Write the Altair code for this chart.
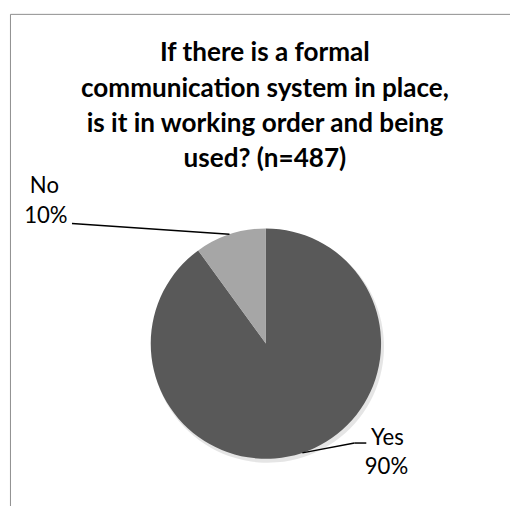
import altair as alt
import pandas as pd

categories = ["Yes", "No"]
values = [90, 10]
colors = ["#595959", "#a6a6a6"]
title_lines = [
    "If there is a formal",
    "communication system in place,",
    "is it in working order and being",
    "used? (n=487)",
]

df = pd.DataFrame({"category": categories, "value": values, "order": [0, 1]})
one = pd.DataFrame({"k": [0]})

W, H = 510, 498
CX, CY, R = 262, 337, 117

frame = alt.Chart(one).mark_rect(fill="white", stroke="#8c8c8c", strokeWidth=1).encode(
    x=alt.value(2.5), y=alt.value(2.5), x2=alt.value(540), y2=alt.value(540)
)

shadow = alt.Chart(df).mark_arc(radius=R + 1, color="#000000", opacity=0.1).encode(
    theta=alt.Theta("value:Q", stack=True),
    order="order:Q",
    x=alt.value(CX + 2), y=alt.value(CY + 3),
)

pie = alt.Chart(df).mark_arc(radius=R).encode(
    theta=alt.Theta("value:Q", stack=True),
    order="order:Q",
    color=alt.Color("category:N", scale=alt.Scale(domain=categories, range=colors), legend=None),
    x=alt.value(CX), y=alt.value(CY),
)

title = alt.Chart(one).mark_text(
    font="Lato", fontWeight="bold", fontSize=26.5, align="center", baseline="middle",
    lineHeight=36, color="#000000"
).encode(x=alt.value(261), y=alt.value(42), text=alt.value(title_lines))

lab_font = dict(font="Lato", fontSize=22.5, align="center", baseline="middle", color="#000000")

def label(cat, x1, y1, x2, y2):
    base = alt.Chart(df).transform_filter(alt.datum.category == cat)
    name = base.mark_text(**lab_font).encode(x=alt.value(x1), y=alt.value(y1), text="category:N")
    pct = base.transform_calculate(p="datum.value + '%'").mark_text(**lab_font).encode(
        x=alt.value(x2), y=alt.value(y2), text="p:N")
    return name + pct

no_lab = label("No", 37, 177, 38.5, 207)
yes_lab = label("Yes", 385.5, 433, 384.5, 462)

rule = dict(color="#000000", strokeWidth=1.5)
lead_no = alt.Chart(one).mark_rule(**rule).encode(
    x=alt.value(65), y=alt.value(215), x2=alt.value(225), y2=alt.value(226))
lead_yes1 = alt.Chart(one).mark_rule(**rule).encode(
    x=alt.value(299), y=alt.value(448), x2=alt.value(352), y2=alt.value(438))
lead_yes2 = alt.Chart(one).mark_rule(**rule).encode(
    x=alt.value(352), y=alt.value(438), x2=alt.value(364), y2=alt.value(438))

chart = alt.layer(
    frame, shadow, pie, title, no_lab, yes_lab, lead_no, lead_yes1, lead_yes2
).properties(
    width=W, height=H, autosize=alt.AutoSizeParams(type="none"), padding=0
).configure_view(stroke=None)

chart.save("out.html", embed_options={"renderer": "svg", "actions": False})
